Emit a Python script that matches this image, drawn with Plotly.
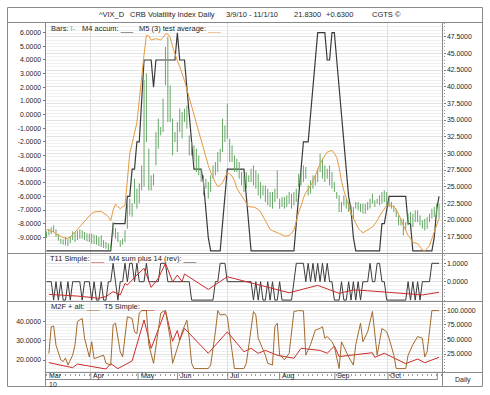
import plotly.graph_objects as go

# ---------------- DATA ----------------
# x = trading-day index from 3/9/10 (0) to 11/1/10 (165)
day_idx = list(range(166))

bar_high = [18.3, 18.7, 18.9, 19.2, 18.6, 17.9, 17.2, 17.1, 17.45, 17.2,
            17.6, 18.3, 18.2, 18.4, 18.6, 18.45, 18.2, 18.0, 17.95, 17.95,
            17.8, 17.7, 17.45, 17.7, 17.0, 16.7, 16.5, 16.3, 19.7, 18.8,
            18.2, 16.95, 17.2, 18.45, 22.7, 23.2, 22.5, 26.2, 24.7, 25.5,
            28.2, 41.0, 42.0, 30.7, 26.7, 26.95, 33.2, 35.2, 33.95, 38.2,
            45.95, 47.45, 40.2, 35.2, 33.2, 34.7, 36.7, 36.2, 36.7, 37.2,
            32.7, 31.7, 31.2, 30.7, 29.7, 27.7, 26.7, 26.2, 25.7, 26.7,
            28.2, 28.7, 30.2, 30.7, 35.2, 34.2, 37.45, 32.2, 31.2, 29.7,
            29.2, 28.7, 27.2, 26.7, 27.2, 26.7, 27.7, 28.2, 27.45, 26.95,
            25.7, 25.2, 25.2, 24.7, 24.2, 24.2, 24.7, 27.45, 23.2, 23.45,
            23.45, 23.7, 24.2, 23.95, 24.2, 24.7, 26.95, 27.45, 28.2, 27.95,
            25.2, 25.95, 26.7, 26.7, 27.7, 29.95, 29.2, 28.2, 27.7, 28.2,
            27.2, 25.7, 24.2, 23.7, 22.7, 23.7, 23.2, 22.7, 22.2, 21.95,
            22.7, 22.7, 22.45, 22.45, 22.45, 22.7, 23.2, 23.95, 22.95, 23.2,
            23.7, 24.2, 24.45, 24.2, 23.2, 22.7, 22.2, 21.7, 20.7, 20.2,
            20.2, 19.7, 20.95, 21.2, 20.95, 21.45, 21.45, 20.7, 19.95, 20.2,
            20.45, 20.95, 21.7, 21.95, 22.45, 22.45]
bar_low = [17.3, 17.7, 17.9, 18.2, 17.5, 16.9, 16.45, 16.3, 16.2, 16.1,
           16.5, 17.0, 16.7, 17.0, 17.2, 17.2, 17.0, 16.8, 16.7, 16.45,
           16.4, 16.3, 16.1, 15.95, 15.8, 15.7, 15.5, 15.45, 17.7, 17.2,
           16.7, 15.95, 16.3, 16.7, 18.7, 20.7, 20.5, 22.45, 21.7, 22.5,
           24.45, 25.0, 31.7, 24.45, 24.45, 25.2, 28.2, 30.7, 32.7, 33.2,
           40.2, 34.7, 34.7, 29.7, 31.7, 30.2, 33.2, 32.2, 34.7, 33.7,
           29.7, 29.7, 28.7, 27.2, 26.7, 25.7, 23.7, 24.7, 23.2, 24.2,
           26.2, 26.7, 27.2, 28.7, 30.2, 31.7, 32.2, 28.7, 28.7, 27.2,
           27.2, 26.2, 25.2, 24.2, 24.7, 25.7, 25.7, 25.2, 24.7, 23.7,
           23.2, 23.7, 22.7, 22.2, 21.95, 21.7, 22.7, 23.2, 21.7, 21.95,
           21.7, 21.95, 22.45, 21.7, 22.2, 22.7, 24.95, 25.2, 25.7, 26.2,
           23.7, 23.95, 24.7, 25.2, 25.7, 27.2, 26.2, 25.7, 26.2, 25.2,
           24.7, 24.2, 23.2, 21.2, 21.2, 22.2, 21.7, 21.2, 20.7, 20.2,
           21.7, 21.45, 21.2, 20.95, 20.95, 21.45, 21.7, 22.45, 21.95, 22.45,
           22.2, 22.45, 22.7, 21.95, 21.95, 21.7, 21.2, 20.45, 19.2, 19.2,
           17.7, 18.45, 19.2, 19.45, 18.95, 19.7, 19.7, 19.2, 18.7, 18.45,
           18.7, 19.7, 20.2, 20.45, 20.7, 20.2]

m4_accum = [-10, -10, -10, -10, -10, -10, -10, -10, -10, -10,
            -10, -10, -10, -10, -10, -10, -10, -10, -10, -10,
            -10, -10, -10, -10, -10, -10, -10, -10, -8, -8,
            -8, -8, -8, -8, -6, -6, -4, -4, -2, -2,
            1, 4, 4, 4, 4, 2, 4, 4, 4, 4,
            4, 4, 4, 4, 4, 6, 4, 4, 4, 2,
            0, -2, -4, -4, -4, -4, -5, -7, -9, -10,
            -10, -10, -10, -10, -8, -6, -4, -4, -4, -4,
            -4, -4, -4, -4, -6, -8, -10, -10, -10, -10,
            -10, -10, -10, -10, -10, -10, -10, -10, -10, -10,
            -10, -10, -10, -10, -10, -8, -6, -4, -2, -2,
            -2, 0, 2, 4, 6, 6, 6, 6, 4, 4,
            6, 6, 4, 2, 0, -2, -4, -6, -7, -9,
            -10, -10, -10, -10, -10, -10, -10, -10, -10, -10,
            -10, -8, -8, -7, -6, -6, -6, -6, -6, -6,
            -6, -6, -8, -8, -10, -10, -10, -10, -10, -10,
            -10, -10, -10, -9, -7, -6]

m5_test_avg = [18.6, 18.5, 18.3, 18.2, 17.9, 17.7, 17.5, 17.3, 17.2, 17.3,
               17.45, 17.8, 18.2, 18.7, 19.1, 19.5, 19.9, 20.3, 20.7, 21.0,
               21.2, 21.3, 21.3, 21.3, 21.1, 20.8, 20.5, 19.9, 21.5, 22.4,
               22.0, 21.7, 22.0, 22.2, 26.0, 30.0, 31.5, 33.0, 34.6, 38.0,
               42.0, 44.8, 47.7, 47.6, 47.0, 47.1, 47.2, 47.1, 47.0, 47.4,
               47.9, 47.9, 47.4, 46.0, 44.8, 43.9, 43.0, 42.1, 40.9, 39.6,
               38.3, 37.0, 35.6, 34.4, 33.1, 31.7, 30.5, 29.2, 28.2, 27.2,
               26.3, 25.6, 25.0, 25.2, 25.6, 26.3, 27.1, 26.9, 26.6, 25.9,
               24.8, 24.2, 23.6, 23.0, 22.4, 22.0, 21.95, 21.95, 21.8, 21.6,
               21.2, 20.5, 19.8, 19.1, 18.6, 18.4, 18.3, 18.1, 17.95, 17.8,
               17.6, 17.6, 17.7, 18.0, 18.5, 19.8, 21.2, 22.1, 23.3, 24.1,
               24.7, 25.2, 25.7, 26.7, 27.7, 28.4, 29.1, 29.7, 30.2, 30.3,
               30.45, 30.0, 29.4, 27.9, 25.8, 24.4, 23.1, 22.2, 21.0, 20.2,
               19.4, 18.8, 18.4, 18.1, 18.3, 18.5, 18.7, 18.95, 19.4, 19.9,
               20.6, 21.1, 21.7, 22.2, 22.3, 22.2, 22.0, 21.6, 20.9, 20.1,
               19.2, 18.4, 17.7, 17.2, 16.7, 16.55, 16.45, 16.0, 15.5, 15.4,
               15.7, 16.2, 17.2, 18.2, 19.5, 20.2]

m4_sum_rev = [0, 0, 0, -1, 0, -1, 0, -1, -1, 0, -1, 0,
              0, 0, 0, -1, 0, 0, 0, -1, 0, -1, -1, 0, -1, -1, 0, 0,
              1, 0, -1, 0, 0, 1, 0, 1, 1, 0, 1, 0, 0, 0, 1, 0, 0, 0, 0, 0, 1, 1, 1, 0,
              0, 0, 0, 0, 0, 0, 0, 0, 0,
              -1, -1, -1, -1, -1, -1, -1, -1, -1, -1,
              0, 0, 1, 1, 1, 0,
              0, 0, 0, 0, 0, 0, 0, 0, 0, 0,
              -1, 0, -1, 0, -1, -1, 0, -1, 0, -1, -1, 0, -1,
              -1, -1, -1, -1,
              0, 1, 1, 1, 1, 0, 1, 0, 1, 0, 1, 0, 1, 0, 1, 0, 0,
              -1, -1, -1, 0, -1, -1, 0, -1, 0, -1, 0, -1, 0, 0, 0, 1, 0, 0, 1, 1, 0, 0,
              -1, -1, -1, -1, -1, -1, -1, -1, -1,
              0, -1, 0, -1, 0, -1, 0, 0, 0, 0, 1, 1, 1, 1]

t11_x = [1, 13, 22, 25, 28, 31, 33, 34, 38, 41, 44, 47, 50, 53, 55, 57, 58,
         68, 76, 102, 114, 123, 129, 135, 158, 165]
t11_y = [-0.69, -0.78, -0.90, -0.81, -0.54, -0.72, -0.09, -0.18, 0.36, 0.73,
         -0.31, 0.18, 1.0, 0.0, 0.36, 0.0, 0.42, -0.42, 0.27, -0.60, -0.20,
         -0.63, -0.45, -0.49, -0.72, -0.58]

m2f_x = [1, 2, 3, 4, 6, 7, 8, 9, 11, 12, 13, 15, 16, 18, 19, 20, 22, 24, 25, 27,
         28, 29, 31, 32, 34, 36, 37, 38, 39, 40, 42, 43, 45, 46, 48, 49, 50, 52,
         53, 55, 57, 59, 60, 61, 62, 68, 69, 71, 72, 73, 75, 76, 78, 79, 83, 84,
         87, 88, 89, 90, 92, 93, 95, 96, 97, 98, 99, 100, 102, 104, 106, 108,
         109, 111, 113, 115, 116, 117, 118, 120, 121, 123, 124, 127, 129, 130,
         132, 133, 135, 137, 138, 139, 141, 143, 144, 146, 147, 151, 152, 154,
         156, 158, 159, 160, 162, 165]
m2f_y = [26, 72, 73, 40, 15, 12, 18, 6, 23, 41, 81, 86, 52, 20, 46, 17, 20, 23, 9, 6,
         75, 78, 29, 20, 89, 86, 63, 60, 95, 99.5, 99.5, 41, 9, 41, 95, 98, 99.5, 52,
         9, 35, 63, 83, 52, 9, 0, 0, 6, 63, 99.5, 92, 93, 89, 23, 0, 0, 9,
         98, 92, 52, 43, 23, 9, 6, 72, 78, 23, 20, 15, 26, 98, 99.5, 99,
         23, 41, 66, 69, 72, 52, 55, 46, 38, 0, 46, 20, 6, 41,
         78, 46, 63, 98, 58, 23, 69, 63, 52, 23, 0, 0, 23, 41,
         55, 52, 20, 29, 99.5, 99.5]

t5_x = [1, 11, 13, 25, 27, 30, 36, 41, 44, 50, 53, 55, 56, 58, 68, 76, 83, 86,
        89, 92, 97, 104, 107, 115, 118, 121, 123, 129, 137, 138, 142, 151, 156,
        159, 165]
t5_y = [18.6, 16.0, 17.9, 15.3, 18.1, 15.5, 19.5, 40.9, 26.1, 45.8, 29.8, 35.4,
        30.3, 36.5, 23.5, 34.7, 24.3, 26.1, 23.5, 25.0, 22.5, 20.9, 26.1, 25.0,
        23.5, 27.3, 21.8, 22.5, 23.8, 21.4, 23.5, 18.1, 20.5, 18.6, 21.4]

month_labels = ["Mar", "Apr", "May", "Jun", "Jul", "Aug", "Sep", "Oct"]
month_pos = [-0.1, 18.6, 38.5, 55.1, 76.2, 98.0, 121.2, 143.5]
row_end_pos = 164.3
quarter_pos = [18.6, 76.2, 143.5]
year_label = "10"

main_left_ticks = [-9, -8, -7, -6, -5, -4, -3, -2, -1, 0, 1, 2, 3, 4, 5, 6]
main_right_ticks = [17.5, 20, 22.5, 25, 27.5, 30, 32.5, 35, 37.5, 40, 42.5, 45, 47.5]
mid_ticks = [0, 1]
bot_left_ticks = [20, 30, 40]
bot_right_ticks = [25, 50, 75, 100]

title_parts = ["^VIX_D", "CRB Volatility Index Daily", "3/9/10 - 11/1/10",
               "21.8300", "+0.6300", "CGTS ©"]

# ---------------- STYLE ----------------
W, H = 490, 395
FONT = "Liberation Sans, Arial, Helvetica, sans-serif"
TXT = "#1e1e1e"
FRAME = "#8a8a8a"
GREEN = "#67a867"
ORANGE = "#e6993f"
DARK = "#3a3a3a"
RED = "#cc2b2b"
BROWN = "#a36a2c"
FS = 7.5
TFS = 6.9


def px(x):
    return x / W


def py(y):
    return 1 - y / H


XDOM = [px(45.5), px(442.5)]
XR = [-0.42, 166.46]
MAIN = [py(253.5), py(22.5)]
MID = [py(301.5), py(253.5)]
BOT = [py(372.5), py(301.5)]


def fmt(v):
    return [f"{t:.4f}" for t in v]


fig = go.Figure()

# bars (I-) built from high/low arrays
bx, by = [], []
for i, h, l in zip(day_idx, bar_high, bar_low):
    bx += [i, i, None]
    by += [l, h, None]
fig.add_trace(go.Scatter(x=bx, y=by, mode="lines", line=dict(color=GREEN, width=1),
                         xaxis="x", yaxis="y2", connectgaps=False))
fig.add_trace(go.Scatter(x=day_idx, y=m5_test_avg, mode="lines",
                         line=dict(color=ORANGE, width=1), xaxis="x", yaxis="y2"))
fig.add_trace(go.Scatter(x=day_idx, y=m4_accum, mode="lines",
                         line=dict(color=DARK, width=1.2), xaxis="x", yaxis="y"))

fig.add_trace(go.Scatter(x=day_idx, y=m4_sum_rev, mode="lines",
                         line=dict(color=DARK, width=1), xaxis="x2", yaxis="y3"))
fig.add_trace(go.Scatter(x=t11_x, y=t11_y, mode="lines",
                         line=dict(color=RED, width=1), xaxis="x2", yaxis="y3"))

fig.add_trace(go.Scatter(x=m2f_x, y=m2f_y, mode="lines",
                         line=dict(color=BROWN, width=1), xaxis="x3", yaxis="y5"))
fig.add_trace(go.Scatter(x=t5_x, y=t5_y, mode="lines",
                         line=dict(color=RED, width=1), xaxis="x3", yaxis="y4"))

tickfont = dict(family=FONT, size=TFS, color=TXT)


def xax(anchor, ruler=False):
    d = dict(domain=XDOM, range=XR, anchor=anchor, showticklabels=False,
             tickmode="array", tickvals=quarter_pos, showgrid=True,
             gridcolor="#dedede", gridwidth=1, zeroline=False, ticks="",
             showline=False, fixedrange=True)
    if ruler:
        d["minor"] = dict(tickmode="linear", tick0=0, dtick=2, ticks="outside",
                          ticklen=2, tickcolor="#9a9a9a", showgrid=False)
    return d


def yax(domain, rng, ticks, side, grid=False, minor_dtick=None, overlay=None,
        anchor=None):
    d = dict(range=rng, side=side, tickmode="array", tickvals=ticks,
             ticktext=fmt(ticks), tickfont=tickfont, ticks="outside", ticklen=2,
             tickcolor="#777", showgrid=grid, gridcolor="#e3e3e3", zeroline=False,
             showline=False, fixedrange=True)
    if overlay:
        d["overlaying"] = overlay
        d["anchor"] = anchor
    else:
        d["domain"] = domain
        d["anchor"] = anchor
    if minor_dtick:
        d["minor"] = dict(tickmode="linear", tick0=0, dtick=minor_dtick,
                          showgrid=grid, gridcolor="#f0f0f0", ticks="outside",
                          ticklen=1.5, tickcolor="#999")
    return d


fig.update_layout(
    width=W, height=H, autosize=False,
    margin=dict(l=0, r=0, t=0, b=0),
    paper_bgcolor="white", plot_bgcolor="white",
    showlegend=False,
    font=dict(family=FONT, size=FS, color=TXT),
    xaxis=xax("y"),
    xaxis2=dict(xax("y3"), matches="x"),
    xaxis3=dict(xax("y4", ruler=True), matches="x"),
    yaxis=yax(MAIN, [-10.188, 6.748], main_left_ticks, "left", anchor="x"),
    yaxis2=yax(None, [14.98, 49.63], main_right_ticks, "right", grid=True,
               minor_dtick=0.5, overlay="y", anchor="x"),
    yaxis3=yax(MID, [-1.076, 1.533], mid_ticks, "right", grid=True,
               minor_dtick=0.2, anchor="x2"),
    yaxis4=yax(BOT, [13.47, 50.55], bot_left_ticks, "left", anchor="x3"),
    yaxis5=yax(None, [-6.75, 115.1], bot_right_ticks, "right", grid=True,
               minor_dtick=5, overlay="y4", anchor="x3"),
)

shapes = []


def hline(y, x0, x1, color=FRAME):
    shapes.append(dict(type="line", xref="paper", yref="paper", x0=px(x0), x1=px(x1),
                       y0=py(y), y1=py(y), line=dict(color=color, width=1)))


def vline(x, y0, y1, color=FRAME):
    shapes.append(dict(type="line", xref="paper", yref="paper", x0=px(x), x1=px(x),
                       y0=py(y0), y1=py(y1), line=dict(color=color, width=1)))


# outer frame and panel separators
shapes.append(dict(type="rect", xref="paper", yref="paper", x0=px(7.5), x1=px(482.5),
                   y0=py(386.5), y1=py(7.5), line=dict(color=FRAME, width=1)))
hline(22.5, 7.5, 482.5)
hline(253.5, 7.5, 482.5)
hline(301.5, 7.5, 482.5)
hline(372.5, 45.5, 482.5)
hline(379.5, 45.5, 437.5)
vline(45.5, 22.5, 386.5)
vline(442.5, 22.5, 386.5)
# month separators in the date row (positions from month_pos)
for m in month_pos[1:] + [row_end_pos]:
    shapes.append(dict(type="line", xref="x3", yref="paper", x0=m, x1=m,
                       y0=py(379.5), y1=py(372.5), line=dict(color=FRAME, width=1)))

ann = []


def text(x, y, s, anchor="left", size=FS, color=TXT, pad=1):
    ann.append(dict(xref="paper", yref="paper", x=px(x), y=py(y), text=s,
                    showarrow=False, xanchor=anchor, yanchor="middle", borderpad=pad,
                    font=dict(family=FONT, size=size, color=color)))


title_x = [97, 128, 224, 292, 324, 370]
for tx, s in zip(title_x, title_parts):
    text(tx, 15, s)

text(48.5, 28, f"Bars: <span style='color:{GREEN}'>I-</span>")
text(80, 28, "M4 accum: <span style='color:#333'>___</span>")
text(136.5, 28, f"M5 (3) test average: <span style='color:{ORANGE}'>___</span>")

text(48, 258.5, f"T11 Simple: <span style='color:{RED}'>___</span>")
text(106.5, 258.5, "M4 sum plus 14 (rev): <span style='color:#333'>___</span>")

text(48.5, 306.5, f"M2F + alt: <span style='color:{BROWN}'>___</span>")
text(101.5, 306.5, f"T5 Simple: <span style='color:{RED}'>___</span>")

for lab, pos in zip(month_labels, month_pos):
    ann.append(dict(xref="x3", yref="paper", x=pos, y=py(375.8), text=lab,
                    showarrow=False, xanchor="left", yanchor="middle", xshift=1.5,
                    borderpad=0, font=dict(family=FONT, size=7, color=TXT)))
text(48, 384.2, year_label, size=7, pad=0)
text(462.5, 379.5, "Daily", anchor="center", size=7, pad=0)

fig.update_layout(shapes=shapes, annotations=ann)

fig.write_html("out.html", config={"displayModeBar": False},
               post_script="document.body.style.margin='0px';")
